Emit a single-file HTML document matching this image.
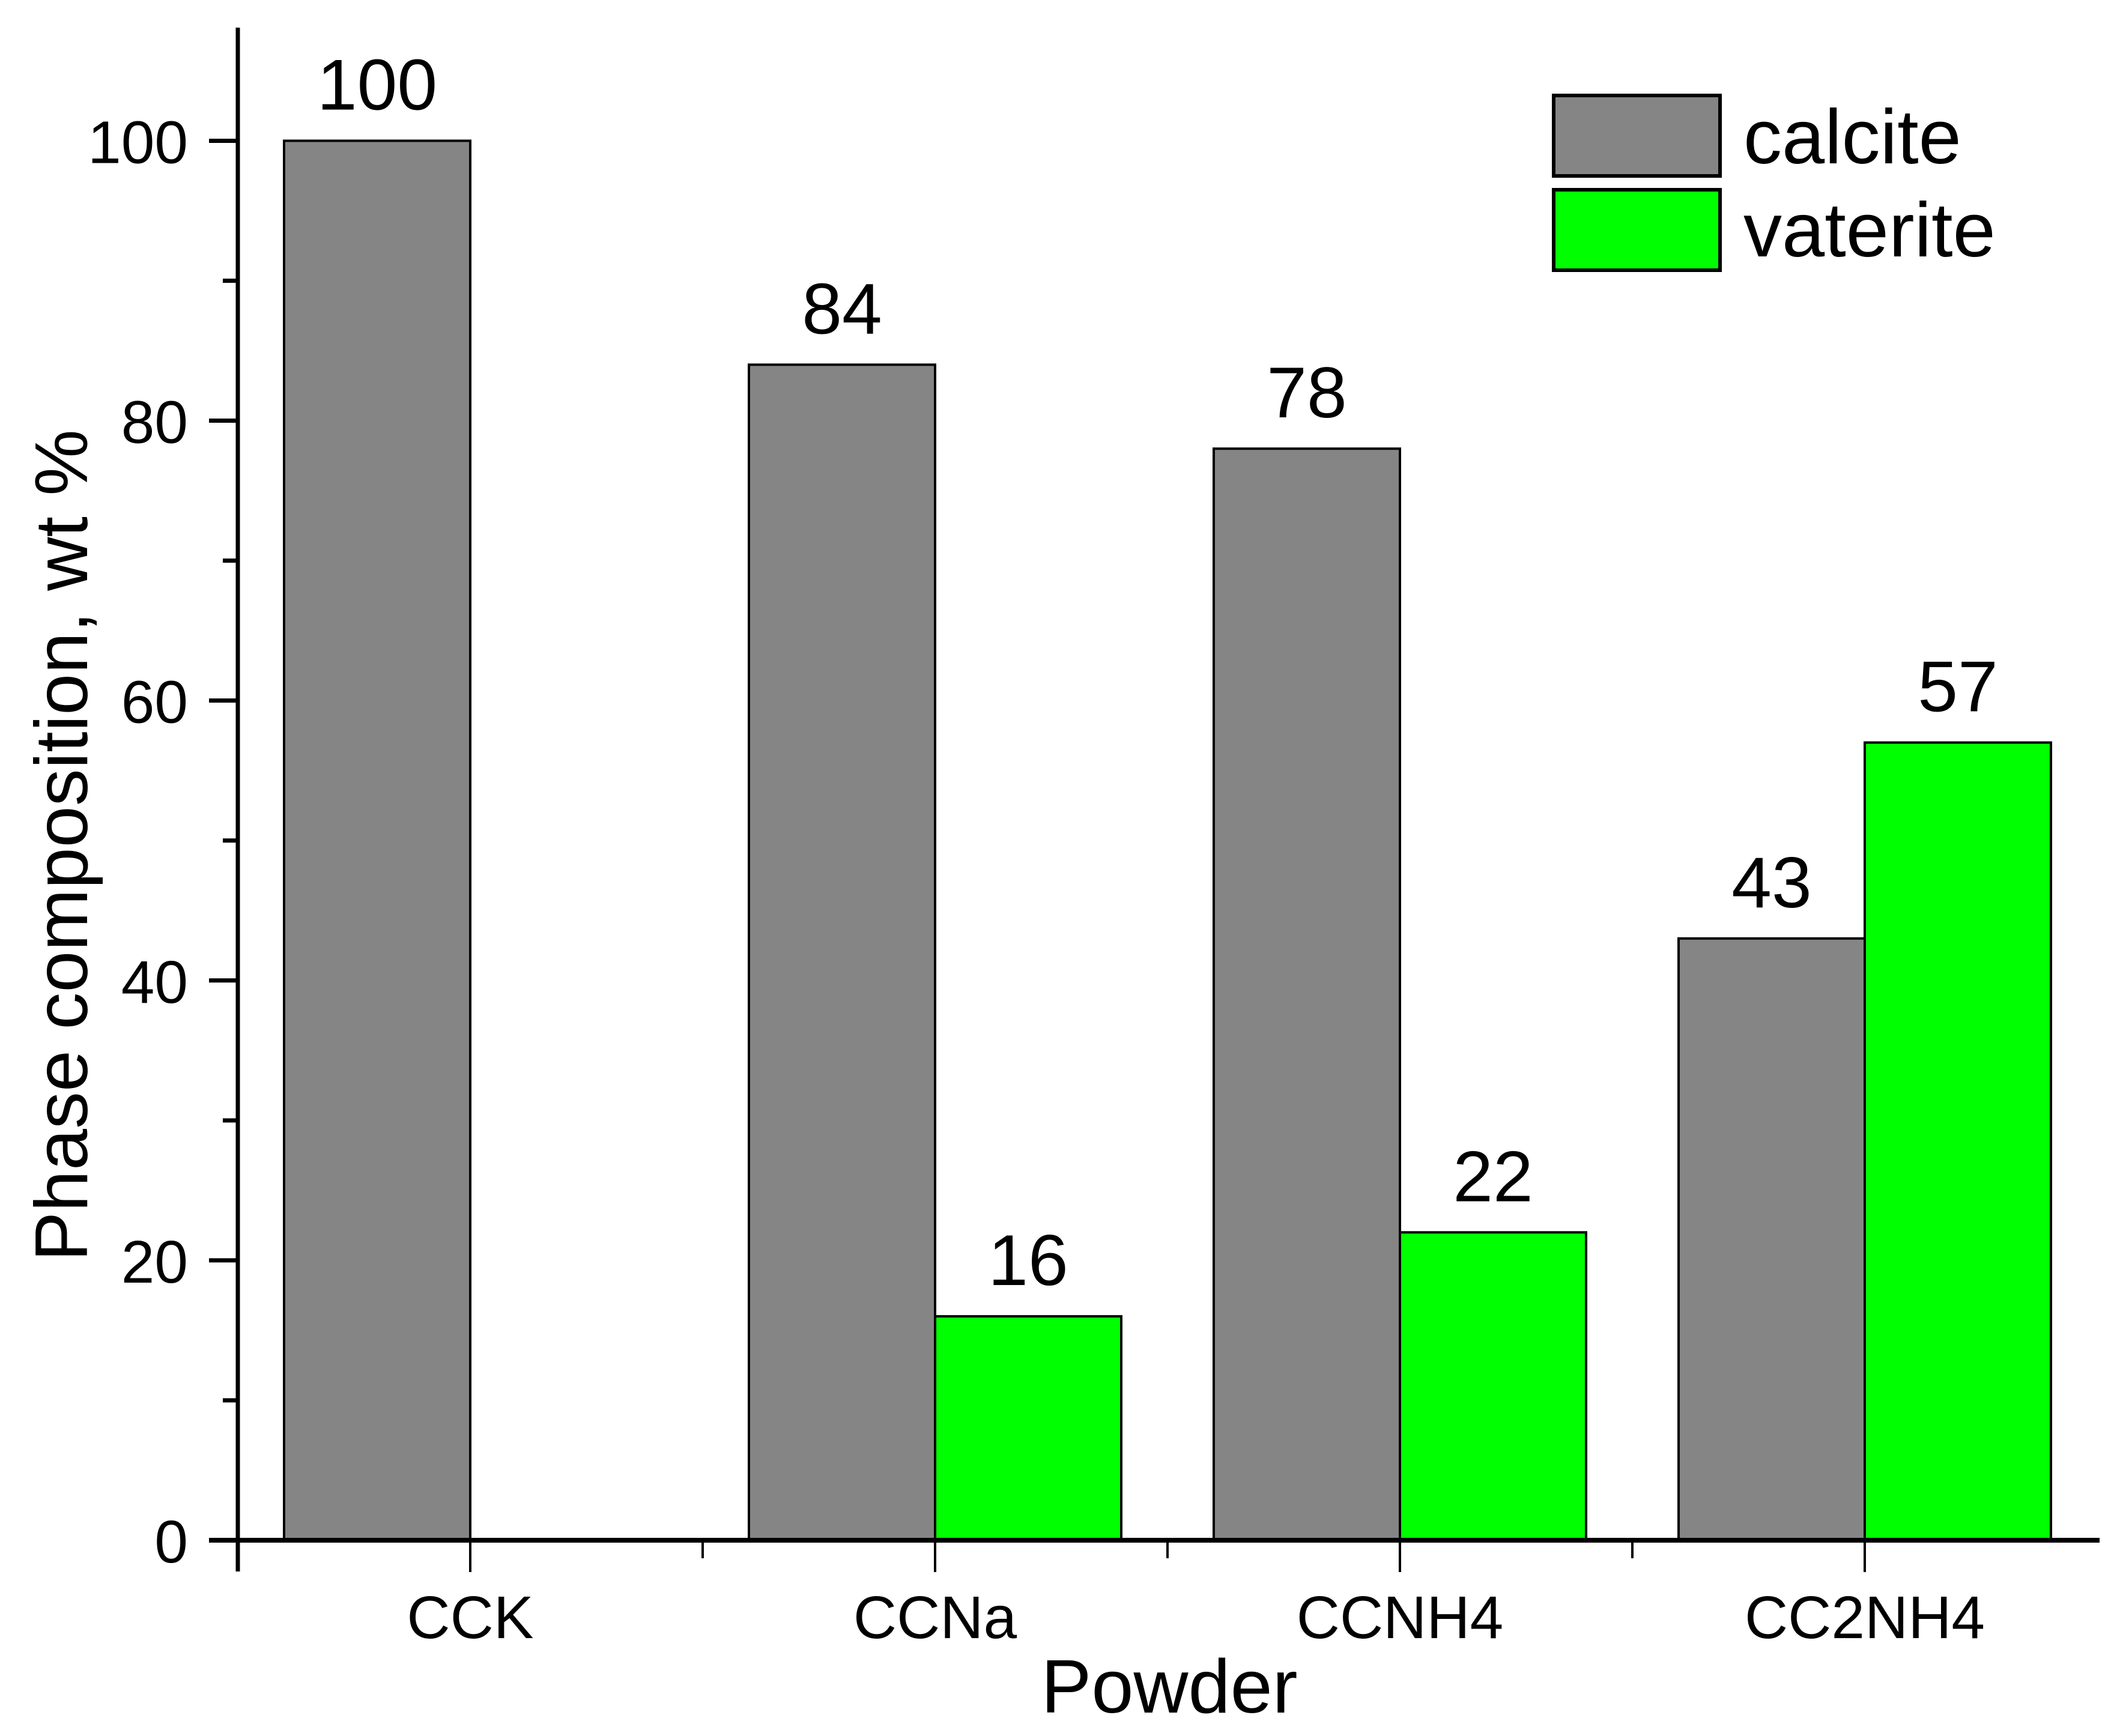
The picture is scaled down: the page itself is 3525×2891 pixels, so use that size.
<!DOCTYPE html>
<html><head><meta charset="utf-8"><style>
html,body{margin:0;padding:0;background:#fff;}
svg{display:block;font-family:"Liberation Sans",Arial,sans-serif;}
</style></head><body>
<svg id="chart" width="3525" height="2891" viewBox="0 0 3525 2891" xmlns="http://www.w3.org/2000/svg">
<g id="bars"></g>
<g id="axes"></g>
<g id="legend"></g>
</svg>
<script>
const categories = ["CCK", "CCNa", "CCNH4", "CC2NH4"];
const calcite = [100, 84, 78, 43];
const vaterite = [0, 16, 22, 57];
const yTicks = [0, 20, 40, 60, 80, 100];
const yMinorTicks = [10, 30, 50, 70, 90];

const NS = "http://www.w3.org/2000/svg";
const X0 = 396, X1 = 3492, Y0 = 2565, YTOP = 48;
const yMax = 108;
function ys(v){ return Y0 - v * (Y0 - YTOP) / yMax; }
function xs(v){ return X0 + (v - 0.5) * (X1 - X0) / 4; }
const barW = 310;
function mk(tag, attrs, parent, text){
  const e = document.createElementNS(NS, tag);
  for (const k in attrs) e.setAttribute(k, attrs[k]);
  if (text !== undefined) e.textContent = text;
  parent.appendChild(e);
  return e;
}
const gb = document.getElementById('bars');
const ga = document.getElementById('axes');
const gl = document.getElementById('legend');

categories.forEach((c, i) => {
  const cx = xs(i + 1);
  const series = [[calcite[i], cx - barW, '#858585', 'calcite'], [vaterite[i], cx, '#00ff00', 'vaterite']];
  series.forEach(([v, x, col, nm]) => {
    if (v <= 0) return;
    const r = mk('rect', {x: x, y: ys(v), width: barW, height: ys(0) - ys(v), fill: col, stroke: '#000', 'stroke-width': 4}, gb);
    
    
    const t = mk('text', {x: x + barW / 2, y: ys(v) - 52, 'font-size': 120, 'text-anchor': 'middle', fill: '#000'}, gb, String(v));
    
    
  });
});

let l = mk('line', {x1: X0, y1: YTOP - 2, x2: X0, y2: Y0 + 52, stroke: '#000', 'stroke-width': 7}, ga);


l = mk('line', {x1: X0 - 48, y1: Y0, x2: X1 + 4, y2: Y0, stroke: '#000', 'stroke-width': 8}, ga);



yTicks.forEach(v => {
  const tk = mk('line', {x1: X0 - 48, y1: ys(v), x2: X0, y2: ys(v), stroke: '#000', 'stroke-width': 7}, ga);
  
  
  const t = mk('text', {x: 313, y: ys(v) + 37, 'font-size': 100, 'text-anchor': 'end'}, ga, String(v));
  
  
});
yMinorTicks.forEach(v => {
  const tk = mk('line', {x1: X0 - 25, y1: ys(v), x2: X0, y2: ys(v), stroke: '#000', 'stroke-width': 7}, ga);
  
  
});
categories.forEach((c, i) => {
  const cx = xs(i + 1);
  const tk = mk('line', {x1: cx, y1: Y0, x2: cx, y2: 2618, stroke: '#000', 'stroke-width': 4}, ga);
  
  
  const mx = xs(i + 1.5);
  if (i < categories.length - 1) {
    const m = mk('line', {x1: mx, y1: Y0, x2: mx, y2: 2595, stroke: '#000', 'stroke-width': 4}, ga);
    
    
  }
  const t = mk('text', {x: cx, y: 2728, 'font-size': 100, 'text-anchor': 'middle'}, ga, c);
  
  
});
let tt = mk('text', {x: 1947, y: 2852, 'font-size': 126, 'text-anchor': 'middle'}, ga, 'Powder');


tt = mk('text', {x: 0, y: 0, 'font-size': 124, 'text-anchor': 'middle', transform: 'translate(145,1408) rotate(-90)'}, ga, 'Phase composition, wt %');



[['calcite', '#858585', 159, 272], ['vaterite', '#00ff00', 316, 427]].forEach(([nm, col, y, by]) => {
  const r = mk('rect', {x: 2587, y: y, width: 277, height: 134, fill: col, stroke: '#000', 'stroke-width': 6}, gl);
  
  
  const t = mk('text', {x: 2903, y: by, 'font-size': 128}, gl, nm);
  
  
});
</script>
</body></html>
